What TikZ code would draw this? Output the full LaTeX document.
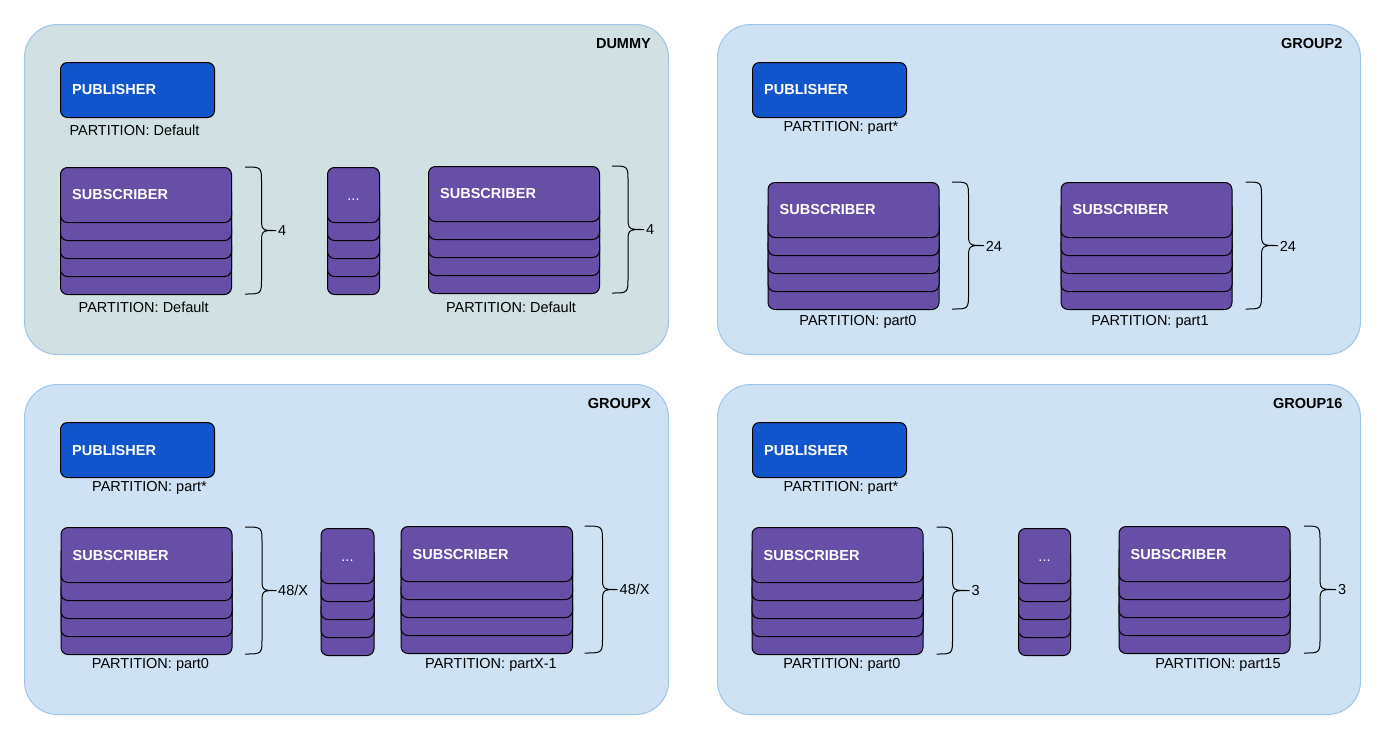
\documentclass[tikz,border=0pt]{standalone}
\usepackage{fontspec}
\setmainfont{Liberation Sans}
\definecolor{pubfill}{HTML}{1155CC}
\definecolor{subfill}{HTML}{674EA7}
\definecolor{dummyfill}{HTML}{D0E0E3}
\definecolor{groupfill}{HTML}{CFE2F3}
\definecolor{panelstroke}{HTML}{9FC5E8}
\newcommand\fs{\fontsize{14.5}{17}\selectfont}
\tikzset{
  panel/.style={draw=panelstroke, line width=1pt, rounded corners=33pt, anchor=north west,
    minimum width=644pt, minimum height=330pt, inner sep=0pt},
  card/.style={draw=black, fill=subfill, line width=1pt, rounded corners=7pt,
    minimum height=55pt, inner sep=0pt, anchor=north west},
  pub/.style={draw=black, fill=pubfill, line width=1pt, rounded corners=7pt,
    minimum width=154pt, minimum height=55pt, inner sep=0pt, anchor=north west},
  wlabel/.style={text=white, font=\bfseries\fs, anchor=west, inner sep=0pt, xshift=12pt},
  dotsty/.style={text=white, font=\fs, text height=10.4pt, text depth=0pt},
  caption/.style={font=\fs, anchor=base, inner sep=0pt},
  num/.style={font=\fs, anchor=base west, inner sep=0pt},
  title/.style={font=\bfseries\fs, anchor=base east, inner sep=0pt},
  bracesty/.style={draw=black, line width=1pt}
}
% stack of five cards: name, x, top y, width, options of the top card, text of the top card
\newcommand\mystack[6]{%
  \foreach \i in {4,3,2,1}{\node[card, minimum width=#4pt] (#1-\i) at (#2,#3+\i*18) {};}
  \node[card, minimum width=#4pt, #5] (#1-0) at (#2,#3) {#6};
}
% curly brace: end x, spine x, tip x, top y, bottom y
\newcommand\curly[5]{%
  \draw[bracesty] (#1,#4) .. controls (#2,#4) .. (#2,#4+16)
    -- (#2,{(#4+#5)/2-14}) .. controls (#2,{(#4+#5)/2}) .. (#3,{(#4+#5)/2})
    .. controls (#2,{(#4+#5)/2}) .. (#2,{(#4+#5)/2+14})
    -- (#2,#5-16) .. controls (#2,#5) .. (#1,#5);
}
\begin{document}
\begin{tikzpicture}[x=1pt,y=-1pt]
\useasboundingbox (0,0) rectangle (1391,745);
% panels
\node[panel, fill=dummyfill] (dummy) at (24,24) {};
\node[panel, fill=groupfill, minimum width=643pt] (group2) at (717,24) {};
\node[panel, fill=groupfill] (groupx) at (24,384) {};
\node[panel, fill=groupfill, minimum width=643pt] (group16) at (717,384) {};
\node[title] (t1) at (651,48) {DUMMY};
\node[title] (t2) at (1342.5,48) {GROUP2};
\node[title] (t3) at (651,408) {GROUPX};
\node[title] (t4) at (1342.5,408) {GROUP16};

% ---------- DUMMY ----------
\node[pub, label={[wlabel]west:PUBLISHER}] (p1) at (60,62) {};
\node[caption] (p1c) at (134.5,135.2) {PARTITION: Default};
\mystack{a}{60}{167}{171}{label={[wlabel]west:SUBSCRIBER}}{}
\curly{245}{261.5}{276}{167}{294}
\node[num] (an) at (278,235.7) {4};
\node[caption] (ac) at (143.7,312.2) {PARTITION: Default};
\mystack{ad}{327}{167}{52}{dotsty}{...}
\mystack{b}{428}{166}{171}{label={[wlabel]west:SUBSCRIBER}}{}
\curly{612}{628}{644}{166}{293}
\node[num] (bn) at (646,234.7) {4};
\node[caption] (bc) at (511,312.2) {PARTITION: Default};

% ---------- GROUP2 ----------
\node[pub, label={[wlabel]west:PUBLISHER}] (p2) at (752,62) {};
\node[caption] (p2c) at (841,131.2) {PARTITION: part*};
\mystack{c}{767.5}{182}{171}{label={[wlabel]west:SUBSCRIBER}}{}
\curly{952}{968.5}{984}{182}{309}
\node[num] (cn) at (985.6,251.2) {24};
\node[caption] (cc) at (858,325.2) {PARTITION: part0};
\mystack{d}{1060.5}{182}{171}{label={[wlabel]west:SUBSCRIBER}}{}
\curly{1245.5}{1261.5}{1278}{182}{309}
\node[num] (dn) at (1279.7,251.2) {24};
\node[caption] (dc) at (1150,325.2) {PARTITION: part1};

% ---------- GROUPX ----------
\node[pub, label={[wlabel]west:PUBLISHER}] (p3) at (60,422) {};
\node[caption] (p3c) at (149.5,491.2) {PARTITION: part*};
\mystack{e}{60.5}{527}{171}{label={[wlabel]west:SUBSCRIBER}}{}
\curly{245}{262}{276.5}{527}{654}
\node[num] (en) at (278,595.7) {48/X};
\node[caption] (ec) at (150.5,668.2) {PARTITION: part0};
\mystack{ed}{320.5}{528}{53}{dotsty}{...}
\mystack{f}{400.5}{526}{171.5}{label={[wlabel]west:SUBSCRIBER}}{}
\curly{584.5}{602.5}{617.5}{526}{653}
\node[num] (fn) at (619.5,594.7) {48/X};
\node[caption] (fc) at (491,668.2) {PARTITION: partX-1};

% ---------- GROUP16 ----------
\node[pub, label={[wlabel]west:PUBLISHER}] (p4) at (752,422) {};
\node[caption] (p4c) at (841,491.2) {PARTITION: part*};
\mystack{g}{751.5}{527}{171}{label={[wlabel]west:SUBSCRIBER}}{}
\curly{936.5}{952.5}{969.5}{527}{654}
\node[num] (gn) at (971.5,595.7) {3};
\node[caption] (gc) at (842,668.2) {PARTITION: part0};
\mystack{gd}{1018}{528}{52}{dotsty}{...}
\mystack{h}{1118.5}{526}{171}{label={[wlabel]west:SUBSCRIBER}}{}
\curly{1304}{1320}{1336}{526}{653}
\node[num] (hn) at (1338,594.7) {3};
\node[caption] (hc) at (1218,668.2) {PARTITION: part15};
\end{tikzpicture}
\end{document}
